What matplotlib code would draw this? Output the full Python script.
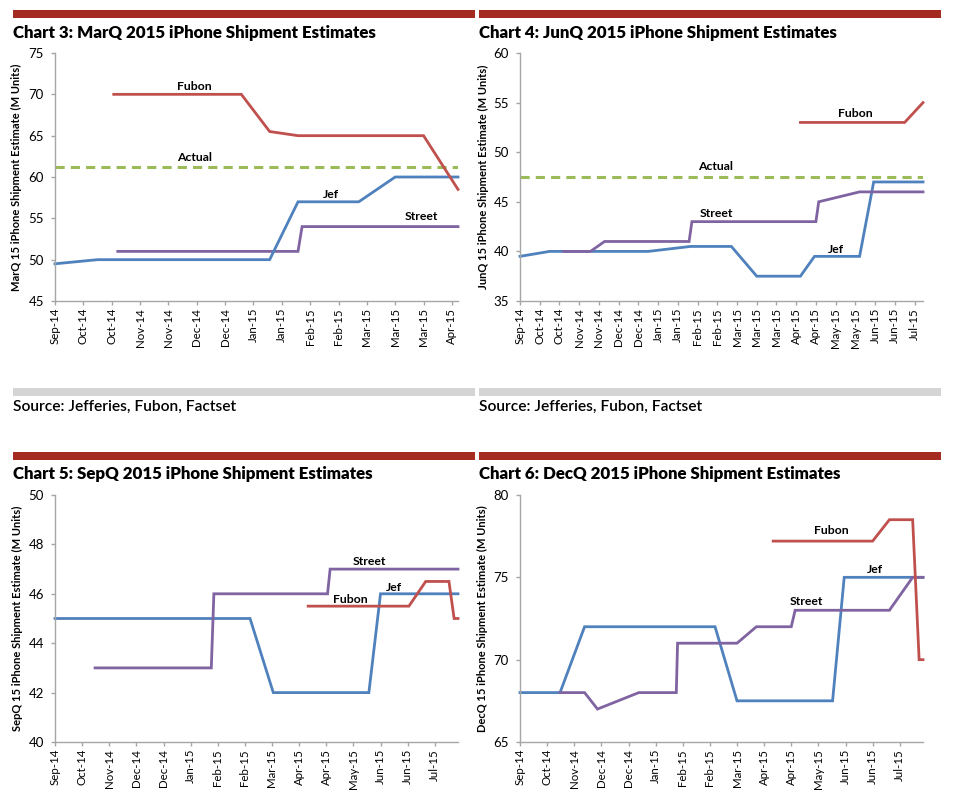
import matplotlib
matplotlib.use("Agg")
import matplotlib.pyplot as plt
import matplotlib.dates as mdates
from matplotlib.patches import Rectangle
import pandas as pd

plt.rcParams['font.family'] = ['Lato', 'DejaVu Sans']

# Chart 3: MarQ 2015
mar_jef_dates = ['2014-09-29', '2014-10-20', '2015-01-13', '2015-01-27', '2015-02-26', '2015-03-16', '2015-04-16']
mar_jef = [49.5, 50, 50, 57, 57, 60, 60]
mar_fubon_dates = ['2014-10-28', '2014-12-30', '2015-01-13', '2015-01-27', '2015-03-30', '2015-04-16']
mar_fubon = [70, 70, 65.5, 65, 65, 58.5]
mar_street_dates = ['2014-10-30', '2015-01-27', '2015-01-29', '2015-04-16']
mar_street = [51, 51, 54, 54]
mar_actual = 61.2

# Chart 4: JunQ 2015
jun_jef_dates = ['2014-09-29', '2014-10-20', '2014-12-29', '2015-01-28', '2015-02-26', '2015-03-16',
                 '2015-04-16', '2015-04-26', '2015-05-28', '2015-06-07', '2015-07-12']
jun_jef = [39.5, 40, 40, 40.5, 40.5, 37.5, 37.5, 39.5, 39.5, 47, 47]
jun_street_dates = ['2014-10-30', '2014-11-18', '2014-11-28', '2015-01-27', '2015-01-29', '2015-04-27',
                    '2015-04-29', '2015-05-28', '2015-07-12']
jun_street = [40, 40, 41, 41, 43, 43, 45, 46, 46]
jun_fubon_dates = ['2015-04-16', '2015-06-29', '2015-07-12']
jun_fubon = [53, 53, 55]
jun_actual = 47.5

# Chart 5: SepQ 2015
sep_jef_dates = ['2014-09-29', '2015-02-27', '2015-03-17', '2015-05-30', '2015-06-08', '2015-08-07']
sep_jef = [45, 45, 42, 42, 46, 46]
sep_street_dates = ['2014-10-30', '2015-01-28', '2015-01-30', '2015-04-28', '2015-04-30', '2015-08-07']
sep_street = [43, 43, 46, 46, 47, 47]
sep_fubon_dates = ['2015-04-13', '2015-06-30', '2015-07-13', '2015-07-31', '2015-08-04', '2015-08-07']
sep_fubon = [45.5, 45.5, 46.5, 46.5, 45, 45]

# Chart 6: DecQ 2015
dec_jef_dates = ['2014-09-29', '2014-10-30', '2014-11-18', '2015-02-27', '2015-03-16', '2015-05-29',
                 '2015-06-07', '2015-08-07']
dec_jef = [68, 68, 72, 72, 67.5, 67.5, 75, 75]
dec_street_dates = ['2014-10-30', '2014-11-18', '2014-11-28', '2014-12-30', '2015-01-28', '2015-01-29',
                    '2015-03-16', '2015-03-31', '2015-04-27', '2015-04-30', '2015-07-12', '2015-07-30',
                    '2015-08-07']
dec_street = [68, 68, 67, 68, 68, 71, 71, 72, 72, 73, 73, 75, 75]
dec_fubon_dates = ['2015-04-13', '2015-06-29', '2015-07-12', '2015-07-30', '2015-08-04', '2015-08-07']
dec_fubon = [77.2, 77.2, 78.5, 78.5, 70, 70]

titles = ['Chart 3: MarQ 2015 iPhone Shipment Estimates',
          'Chart 4: JunQ 2015 iPhone Shipment Estimates',
          'Chart 5: SepQ 2015 iPhone Shipment Estimates',
          'Chart 6: DecQ 2015 iPhone Shipment Estimates']
ylabels = ['MarQ 15 iPhone Shipment Estimate (M Units)',
           'JunQ 15 iPhone Shipment Estimate (M Units)',
           'SepQ 15 iPhone Shipment Estimate (M Units)',
           'DecQ 15 iPhone Shipment Estimate (M Units)']
source = 'Source: Jefferies, Fubon, Factset'

BLUE = '#4F81BD'
RED = '#C0504D'
PURPLE = '#8064A2'
GREEN = '#9BBB59'
BAR_RED = '#A52A20'
BAR_GRAY = '#D4D4D4'
AXIS_GRAY = '#A6A6A6'

W, H = 955, 798
fig = plt.figure(figsize=(W / 100, H / 100), dpi=100)


def fx(x):
    return x / W


def fy(y):
    return 1 - y / H


def bar(x0, x1, y0, y1, color):
    fig.add_artist(Rectangle((fx(x0), fy(y1)), fx(x1 - x0), (y1 - y0) / H,
                             transform=fig.transFigure, color=color, lw=0))


def to_dt(d):
    return pd.to_datetime(d)


def make_axes(left, top, right, bottom):
    return fig.add_axes([fx(left), fy(bottom), fx(right - left), (bottom - top) / H])


def style_axes(ax, ylim, ystep, tick_days, ylabel, start, end, label_x):
    ax.set_xlim(start, end)
    ax.set_ylim(*ylim)
    ax.set_yticks(range(ylim[0], ylim[1] + 1, ystep))
    ticks = pd.date_range(start, end, freq='%dD' % tick_days)
    ax.set_xticks(ticks)
    ax.xaxis.set_major_formatter(mdates.DateFormatter('%b-%y'))
    for s in ['top', 'right']:
        ax.spines[s].set_visible(False)
    for s in ['left', 'bottom']:
        ax.spines[s].set_color(AXIS_GRAY)
        ax.spines[s].set_linewidth(1.0)
    ax.tick_params(axis='both', direction='out', length=3, width=1, color=AXIS_GRAY,
                   labelcolor='black')
    ax.tick_params(axis='y', pad=5, labelsize=9.5)
    ax.tick_params(axis='x', pad=2, labelrotation=90, labelsize=8.3)
    ax.set_ylabel(ylabel, fontsize=8, fontweight='bold')
    ax.yaxis.set_label_coords(label_x, 0.5)
    ax.set_facecolor('white')


def plot_line(ax, dates, vals, color):
    ax.plot(to_dt(dates), vals, color=color, lw=2.0, solid_joinstyle='miter', clip_on=False)


def lab(ax, date, y, txt):
    ax.text(to_dt(date), y, txt, ha='center', va='center', fontsize=8.8, fontweight='bold')


# decorations: red header bars, grey footer bars, titles and source lines
for x0, x1 in [(13, 475), (479, 941)]:
    bar(x0, x1, 10, 17.5, BAR_RED)
    bar(x0, x1, 452, 460, BAR_RED)
    bar(x0, x1, 388, 396, BAR_GRAY)
    fig.text(fx(x0), fy(407), source, fontsize=11.2, fontweight='semibold', va='center', ha='left')

fig.text(fx(13), fy(33), titles[0], fontsize=12.2, fontweight='heavy', va='center')
fig.text(fx(479), fy(33), titles[1], fontsize=12.2, fontweight='heavy', va='center')
fig.text(fx(13), fy(474), titles[2], fontsize=12.2, fontweight='heavy', va='center')
fig.text(fx(479), fy(474), titles[3], fontsize=12.2, fontweight='heavy', va='center')

# Chart 3
ax3 = make_axes(55, 53, 458, 301)
start = to_dt(mar_jef_dates[0])
end = max(to_dt(mar_jef_dates[-1]), to_dt(mar_fubon_dates[-1]), to_dt(mar_street_dates[-1]))
ax3.axhline(mar_actual, color=GREEN, lw=2.2, ls=(0, (3, 2)))
plot_line(ax3, mar_street_dates, mar_street, PURPLE)
plot_line(ax3, mar_jef_dates, mar_jef, BLUE)
plot_line(ax3, mar_fubon_dates, mar_fubon, RED)
style_axes(ax3, (45, 75), 5, 14, ylabels[0], start, end, -0.082)
lab(ax3, '2014-12-07', 71, 'Fubon')
lab(ax3, '2014-12-07', 62.4, 'Actual')
lab(ax3, '2015-02-12', 57.9, 'Jef')
lab(ax3, '2015-03-29', 55.2, 'Street')

# Chart 4
ax4 = make_axes(520, 53, 923, 301)
start = to_dt(jun_jef_dates[0])
end = max(to_dt(jun_jef_dates[-1]), to_dt(jun_fubon_dates[-1]), to_dt(jun_street_dates[-1]))
ax4.axhline(jun_actual, color=GREEN, lw=2.2, ls=(0, (3, 2)))
plot_line(ax4, jun_jef_dates, jun_jef, BLUE)
plot_line(ax4, jun_street_dates, jun_street, PURPLE)
plot_line(ax4, jun_fubon_dates, jun_fubon, RED)
style_axes(ax4, (35, 60), 5, 14, ylabels[1], start, end, -0.077)
lab(ax4, '2015-05-25', 53.9, 'Fubon')
lab(ax4, '2015-02-15', 48.6, 'Actual')
lab(ax4, '2015-02-15', 43.8, 'Street')
lab(ax4, '2015-05-11', 40.2, 'Jef')

# Chart 5
ax5 = make_axes(55, 495, 458, 742)
start = to_dt(sep_jef_dates[0])
end = max(to_dt(sep_jef_dates[-1]), to_dt(sep_fubon_dates[-1]), to_dt(sep_street_dates[-1]))
plot_line(ax5, sep_jef_dates, sep_jef, BLUE)
plot_line(ax5, sep_street_dates, sep_street, PURPLE)
plot_line(ax5, sep_fubon_dates, sep_fubon, RED)
style_axes(ax5, (40, 50), 2, 21, ylabels[2], start, end, -0.08)
lab(ax5, '2015-05-30', 47.3, 'Street')
lab(ax5, '2015-06-18', 46.27, 'Jef')
lab(ax5, '2015-05-16', 45.78, 'Fubon')

# Chart 6
ax6 = make_axes(520, 495, 923, 742)
start = to_dt(dec_jef_dates[0])
end = max(to_dt(dec_jef_dates[-1]), to_dt(dec_fubon_dates[-1]), to_dt(dec_street_dates[-1]))
plot_line(ax6, dec_jef_dates, dec_jef, BLUE)
plot_line(ax6, dec_street_dates, dec_street, PURPLE)
plot_line(ax6, dec_fubon_dates, dec_fubon, RED)
style_axes(ax6, (65, 80), 5, 21, ylabels[3], start, end, -0.08)
lab(ax6, '2015-05-28', 77.86, 'Fubon')
lab(ax6, '2015-07-01', 75.5, 'Jef')
lab(ax6, '2015-05-09', 73.55, 'Street')

fig.savefig('out.png', dpi=100, facecolor='white')
